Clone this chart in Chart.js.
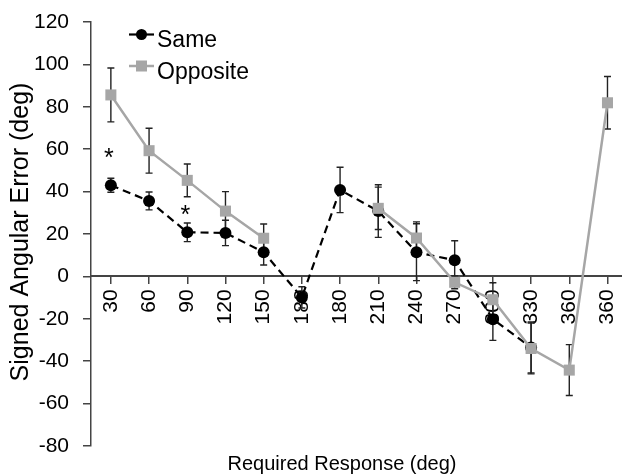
<!DOCTYPE html>
<html>
<head>
<meta charset="utf-8">
<script src="https://cdn.jsdelivr.net/npm/chart.js@4.4.1/dist/chart.umd.min.js"></script>
<style>
  html, body { margin: 0; padding: 0; background: #fff; }
  #wrap { width: 622px; height: 474px; }
</style>
</head>
<body>
<div id="wrap"><canvas id="c" width="622" height="474"></canvas></div>
<script>
// ---- data ----
const categories = ['30','60','90','120','150','180','180','210','240','270','300','330','360','360'];
const sameValues = [43, 35.6, 20.8, 20.5, 11.4, -9.9, 40.8, 30.8, 11.4, 7.6, -20.2, -33.5, null, null];
const sameErrors = [3.3, 4.2, 4.4, 6, 6, 5, 10.7, 12.4, 13.4, 9.2, 10, 12, null, null];
const oppositeValues = [85.6, 59.3, 45.3, 30.8, 18, null, null, 32.1, 18.1, -2.8, -11, -34, -44.2, 81.9];
const oppositeErrors = [12.7, 10.6, 7.7, 9.2, 6.7, null, null, 10, 7.6, 3, 8, 12, 12, 12.4];
const yTicks = [-80, -60, -40, -20, 0, 20, 40, 60, 80, 100, 120];
const asteriskIndex = [0, 2];
const asteriskValue = [58.8, 31.6];

const FONT = '"Liberation Sans", Arial, Helvetica, sans-serif';

const errorBars = {
  id: 'errorBars',
  beforeDatasetsDraw(chart) {
    const ctx = chart.ctx, xs = chart.scales.x, ys = chart.scales.y;
    ctx.save();
    ctx.strokeStyle = '#222';
    ctx.lineWidth = 1.4;
    chart.data.datasets.forEach(ds => {
      const errs = ds.errors;
      ds.data.forEach((p, i) => {
        const v = p.y;
        if (v == null || errs[i] == null) return;
        const x = xs.getPixelForValue(p.x);
        const yt = ys.getPixelForValue(v + errs[i]);
        const yb = ys.getPixelForValue(v - errs[i]);
        ctx.beginPath();
        ctx.moveTo(x, yt); ctx.lineTo(x, yb);
        ctx.moveTo(x - 3.5, yt); ctx.lineTo(x + 3.5, yt);
        ctx.moveTo(x - 3.5, yb); ctx.lineTo(x + 3.5, yb);
        ctx.stroke();
      });
    });
    ctx.restore();
  }
};

const extras = {
  id: 'extras',
  afterDraw(chart) {
    const ctx = chart.ctx, xs = chart.scales.x, ys = chart.scales.y;
    ctx.save();
    // asterisks
    ctx.fillStyle = '#000';
    ctx.font = '25px ' + FONT;
    ctx.textAlign = 'center';
    ctx.textBaseline = 'alphabetic';
    asteriskIndex.forEach((idx, k) => {
      const x = xs.getPixelForValue(idx) - 2;
      const y = ys.getPixelForValue(asteriskValue[k]) + 14;
      ctx.fillText('*', x, y);
    });
    // legend
    const items = [
      { label: 'Same', color: '#000', style: 'circle', y: 34.5, base: 46.5 },
      { label: 'Opposite', color: '#a6a6a6', style: 'rect', y: 66, base: 79 }
    ];
    items.forEach(it => {
      ctx.strokeStyle = it.color;
      ctx.lineWidth = it.style === 'circle' ? 2.2 : 2.5;
      ctx.beginPath();
      ctx.moveTo(129, it.y); ctx.lineTo(154, it.y);
      ctx.stroke();
      ctx.fillStyle = it.color;
      if (it.style === 'circle') {
        ctx.beginPath(); ctx.arc(141.5, it.y, 5.5, 0, Math.PI * 2); ctx.fill();
      } else {
        ctx.fillRect(141.5 - 5.5, it.y - 5.5, 11, 11);
      }
      ctx.fillStyle = '#000';
      ctx.font = '23px ' + FONT;
      ctx.textAlign = 'left';
      ctx.fillText(it.label, 157, it.base);
    });
    // axis titles
    ctx.fillStyle = '#000';
    ctx.font = '20px ' + FONT;
    ctx.textAlign = 'center';
    ctx.fillText('Required Response (deg)', 342, 470);
    ctx.translate(28, 232);
    ctx.rotate(-Math.PI / 2);
    ctx.font = '25px ' + FONT;
    ctx.fillText('Signed Angular Error (deg)', 0, 0);
    ctx.restore();
  }
};

new Chart(document.getElementById('c'), {
  type: 'line',
  data: {
    datasets: [
      {
        label: 'Same',
        data: sameValues.map((v, i) => ({ x: i, y: v })),
        errors: sameErrors,
        borderColor: '#000',
        borderWidth: 2.2,
        borderDash: [8, 5],
        pointStyle: 'circle',
        pointRadius: 6,
        pointBackgroundColor: '#000',
        pointBorderWidth: 0,
        spanGaps: false,
        clip: false,
        order: 1
      },
      {
        label: 'Opposite',
        data: oppositeValues.map((v, i) => ({ x: i, y: v })),
        errors: oppositeErrors,
        borderColor: '#a6a6a6',
        borderWidth: 2.5,
        pointStyle: 'rect',
        pointRadius: 7.8,
        pointBackgroundColor: '#a6a6a6',
        pointBorderWidth: 0,
        spanGaps: false,
        clip: false,
        order: 0
      }
    ]
  },
  options: {
    responsive: false,
    animation: false,
    events: [],
    layout: { autoPadding: false, padding: { left: 0, top: 22, right: 0, bottom: 28 } },
    plugins: { legend: { display: false }, tooltip: { enabled: false } },
    scales: {
      x: {
        type: 'linear',
        position: { y: 0 },
        min: -0.52,
        max: 13.38,
        afterBuildTicks: s => { s.ticks = categories.map((c, i) => ({ value: i })); },
        afterFit: s => { s.paddingLeft = 0; s.paddingRight = 0; s.paddingTop = 0; s.paddingBottom = 0; },
        ticks: {
          autoSkip: false,
          minRotation: 90,
          maxRotation: 90,
          padding: 6,
          color: '#000',
          font: { family: FONT, size: 21 },
          callback: v => categories[v]
        },
        grid: { drawOnChartArea: false, drawTicks: true, tickLength: 7, color: '#444', lineWidth: 1.5 },
        border: { display: true, color: '#444', width: 2 }
      },
      y: {
        type: 'linear',
        min: -80,
        max: 120,
        afterBuildTicks: s => { s.ticks = yTicks.map(v => ({ value: v })); },
        afterFit: s => { s.width = 91; s.paddingTop = 0; s.paddingBottom = 0; },
        ticks: {
          padding: 14,
          color: '#000',
          font: { family: FONT, size: 21 }
        },
        grid: { drawOnChartArea: false, drawTicks: true, tickLength: 8, color: '#444', lineWidth: 1.5 },
        border: { display: true, color: '#444', width: 1.5 }
      }
    }
  },
  plugins: [errorBars, extras]
});
</script>
</body>
</html>
